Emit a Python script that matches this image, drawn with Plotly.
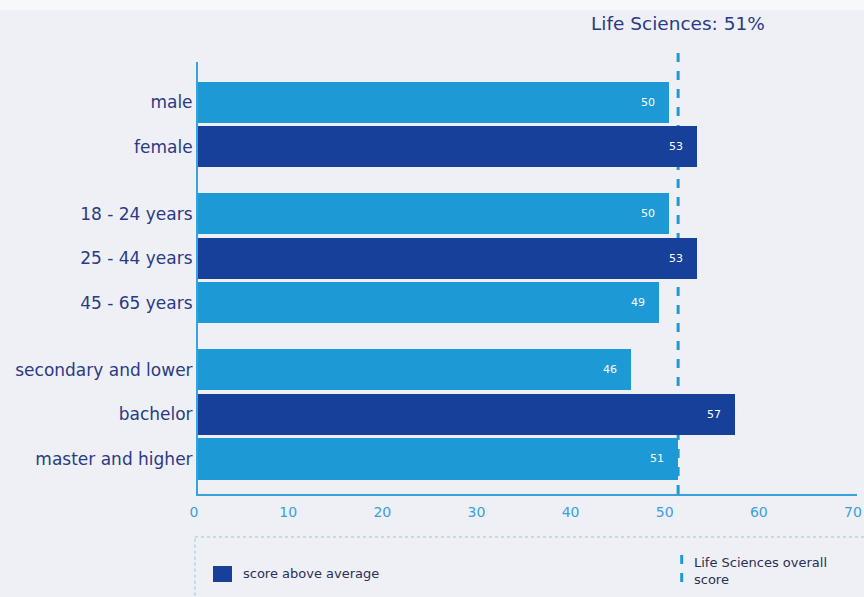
import plotly.graph_objects as go

# ---- data ----
groups = [
    ["male", "female"],
    ["18 - 24 years", "25 - 44 years", "45 - 65 years"],
    ["secondary and lower", "bachelor", "master and higher"],
]
values = [50, 53, 50, 53, 49, 46, 57, 51]
overall = 51
title_text = "Life Sciences: 51%"
x_ticks = [0, 10, 20, 30, 40, 50, 60, 70]

# ---- derived positions (group gap of half a row) ----
categories, ypos = [], []
pos = 0.0
for g in groups:
    for c in g:
        categories.append(c)
        ypos.append(pos)
        pos += 1.0
    pos += 0.5

LIGHT = "#1d9ad6"
DARK = "#16409a"
TEXT = "#2b3a84"
AXIS = "#3aa0dc"
BG = "#eef0f5"

colors = [DARK if v > overall else LIGHT for v in values]

fig = go.Figure()
fig.add_trace(go.Bar(
    x=values, y=ypos, orientation="h", width=0.92,
    marker=dict(color=colors, line=dict(width=0)),
    hoverinfo="skip", showlegend=False,
))

annotations = []
for v, y in zip(values, ypos):
    annotations.append(dict(
        x=v, y=y, xref="x", yref="y", text=str(v), showarrow=False,
        xanchor="right", xshift=-12, font=dict(color="white", size=11, family="DejaVu Sans"),
    ))

annotations.append(dict(
    x=overall, y=1.088, xref="x", yref="paper", text=title_text, showarrow=False,
    xanchor="center", yanchor="middle", font=dict(color=TEXT, size=18.5, family="DejaVu Sans"),
))
annotations.append(dict(
    x=0.0653, y=-0.185, xref="paper", yref="paper", text="score above average", showarrow=False,
    xanchor="left", yanchor="middle", font=dict(color="#2a2f55", size=13, family="DejaVu Sans"),
))
annotations.append(dict(
    x=0.75, y=-0.178, xref="paper", yref="paper", text="Life Sciences overall<br>score", showarrow=False,
    xanchor="left", yanchor="middle", align="left", font=dict(color="#2a2f55", size=13, family="DejaVu Sans"),
))

shapes = [
    # overall dashed line (behind bars)
    dict(type="line", xref="x", yref="paper", x0=overall, x1=overall, y0=0, y1=1.023,
         line=dict(color=LIGHT, width=3, dash="dash"), layer="below"),
    # legend box
    dict(type="rect", xref="paper", yref="paper", x0=-0.0046, x1=1.05, y0=-0.0995, y1=-0.26,
         line=dict(color="#8cc6e8", width=1, dash="dot"), fillcolor="rgba(0,0,0,0)"),
    # legend dark square
    dict(type="rect", xref="paper", yref="paper", x0=0.0228, x1=0.0516, y0=-0.1667, y1=-0.2037,
         line=dict(width=0), fillcolor=DARK),
    # legend dashed line
    dict(type="line", xref="paper", yref="paper", x0=0.734, x1=0.734, y0=-0.141, y1=-0.222,
         line=dict(color=LIGHT, width=3, dash="dash")),
    # lighter band at very top
    dict(type="rect", xref="paper", yref="paper", x0=-0.4, x1=1.05, y0=1.12, y1=1.2,
         line=dict(width=0), fillcolor="#f7f8fa", layer="below"),
]

fig.update_layout(
    width=864, height=597,
    margin=dict(l=198, r=7, t=62, b=103, autoexpand=False),
    paper_bgcolor=BG, plot_bgcolor=BG,
    font=dict(family="DejaVu Sans"),
    bargap=0,
    annotations=annotations,
    shapes=shapes,
    xaxis=dict(
        range=[0, 70], tickvals=x_ticks, ticktext=[str(t) for t in x_ticks],
        showgrid=False, zeroline=False, showline=True, linecolor=AXIS, linewidth=2,
        tickfont=dict(color=AXIS, size=14), ticks="", ticklen=0, automargin=False,
        ticklabeloverflow="allow", ticklabelshift=-4, ticklabelstandoff=4,
    ),
    yaxis=dict(
        range=[ypos[-1] + 0.785, ypos[0] - 0.897],
        tickvals=ypos, ticktext=categories, automargin=False,
        showgrid=False, zeroline=False, showline=True, linecolor=AXIS, linewidth=2,
        tickfont=dict(color=TEXT, size=17), ticks="", ticklabelstandoff=0,
    ),
)

fig.write_html("out.html")
